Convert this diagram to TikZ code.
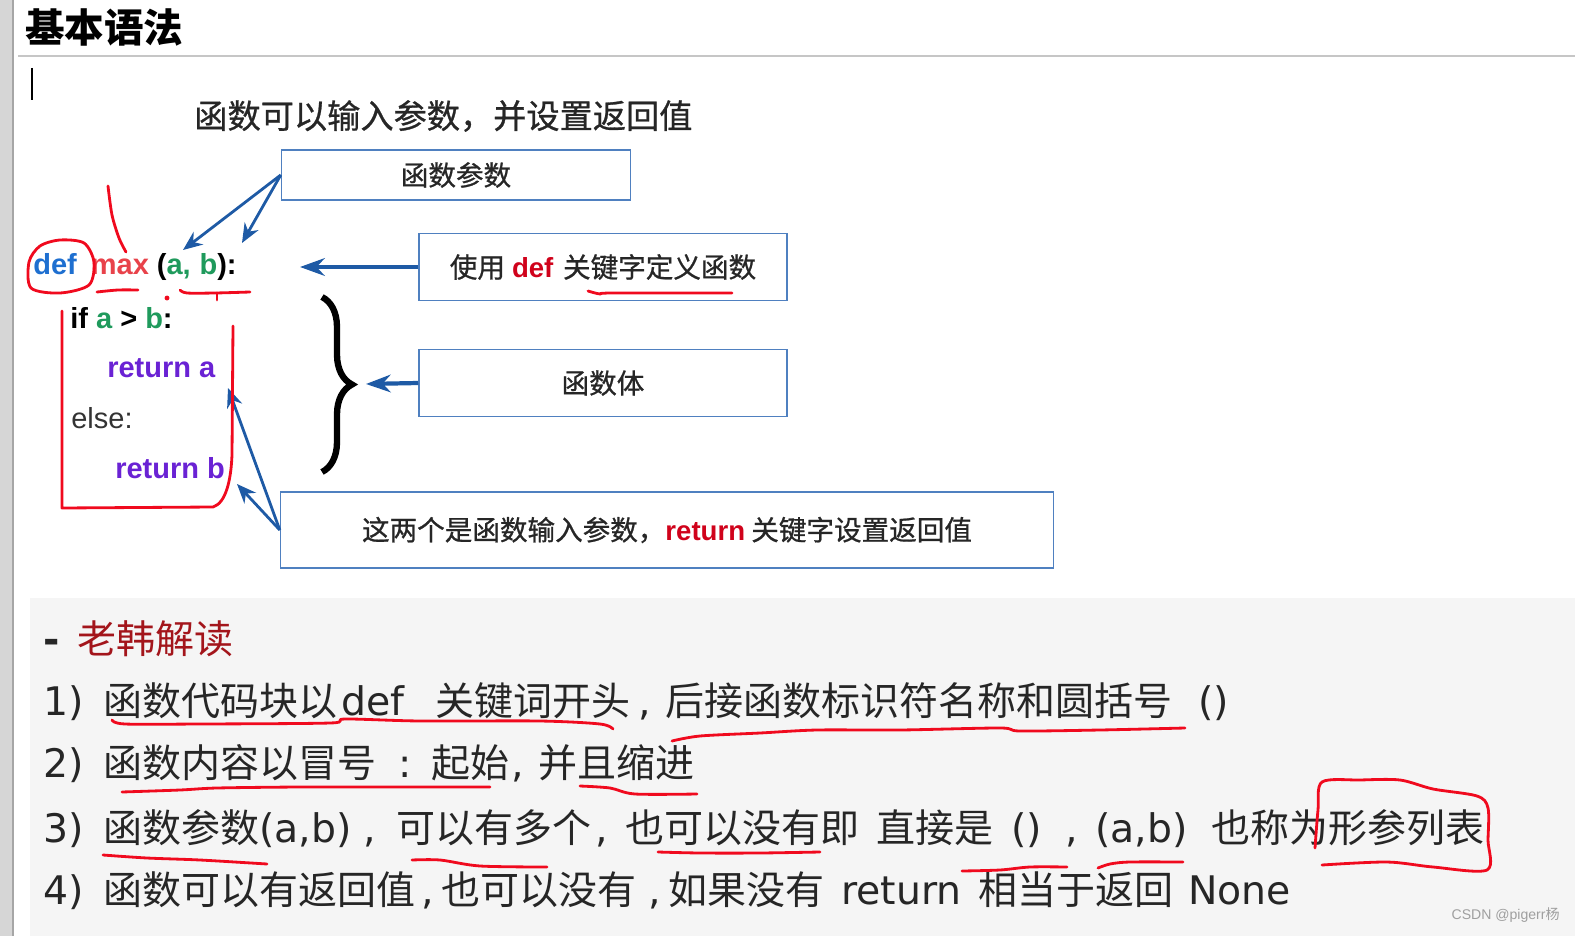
\documentclass[tikz,border=0pt]{standalone}
\usepackage{fontspec}
\setmainfont{DejaVu Sans}
\newfontfamily\zh{Noto Sans CJK SC}
\newfontfamily\zhm[FakeBold=0.8]{Noto Sans CJK SC}
\newfontfamily\ar{Liberation Sans}
\usetikzlibrary{arrows.meta,decorations.pathreplacing}

\definecolor{boxblue}{HTML}{4F80C0}
\definecolor{arrblue}{HTML}{1E5AA5}
\definecolor{defblue}{HTML}{1E6FD0}
\definecolor{maxred}{HTML}{E8424A}
\definecolor{abgreen}{HTML}{1F9A5C}
\definecolor{retpurple}{HTML}{6A22D4}
\definecolor{kwred}{HTML}{D0021B}
\definecolor{hanred}{HTML}{A3151B}
\definecolor{penred}{HTML}{F00A1E}
\definecolor{bggray}{HTML}{F5F5F5}
\definecolor{stripgray}{HTML}{D6D6D6}

% one segment of a note line, #1 wide in pixels
\newcommand{\pxbox}[2]{\makebox[#1\dimexpr0.2mm\relax][l]{#2}}
\newcommand{\hanzi}[1]{{\zh\fontsize{22.2}{27}\selectfont #1}}

\begin{document}
\begin{tikzpicture}[x=0.02cm, y=-0.02cm, >=Stealth,
  every node/.style={inner sep=0pt},
  bluebox/.style={draw=boxblue, line width=0.9pt, font=\zhm\fontsize{15.7}{19}\selectfont, text=black!85},
  arr/.style={draw=arrblue, line width=1.6pt, -{Stealth[length=11pt,width=9pt]}},
  bigarr/.style={draw=arrblue, line width=2.4pt, -{Stealth[length=14pt,width=10pt]}},
  pen/.style={draw=penred, line width=1.6pt, line cap=round, line join=round},
  code/.style={anchor=west, font=\ar\bfseries\fontsize{16.5}{20}\selectfont},
  item/.style={anchor=base west, font=\fontsize{22.4}{27}\selectfont, text=black!85}]
\useasboundingbox (0,0) rectangle (1575,936);

% page frame
\fill[stripgray] (0,0) rectangle (12,936);
\draw[gray!70, line width=0.8pt] (13,0) -- (13,936);
\fill[bggray] (30,598) rectangle (1575,936);
\draw[gray!45, line width=0.8pt] (18,56) -- (1575,56);
\draw[line width=1.2pt] (32,68) -- (32,100);

\node[anchor=west, font=\zh\bfseries\fontsize{22.5}{27}\selectfont] (title) at (25,27) {基本语法};
\node[anchor=west, font=\zhm\fontsize{18.9}{22}\selectfont, text=black!85] (sub) at (194,116) {函数可以输入参数，并设置返回值};

% code
\node[code] (c1) at (33,267) {\color{defblue}def\hspace{8pt}\color{maxred}max \color{black}(\color{abgreen}a,\hspace{5pt}b\color{black}):};
\node[code] (c2) at (70,318) {if \color{abgreen}a \color{black}> \color{abgreen}b\color{black}:};
\node[code, text=retpurple] (c3) at (107,368) {return a};
\node[code, font=\ar\fontsize{16.5}{20}\selectfont, text=black!80] (c4) at (71,418) {else:};
\node[code, text=retpurple] (c5) at (115,468) {return b};

% boxes
\node[bluebox, minimum width=6.98cm, minimum height=1.0cm] (bpar) at (456,175) {函数参数};
\node[bluebox, minimum width=7.36cm, minimum height=1.34cm] (bdef) at (603,267) {使用\hspace{4pt}{\ar\bfseries\color{kwred}def}\hspace{5.5pt}关键字定义函数};
\node[bluebox, minimum width=7.36cm, minimum height=1.34cm] (bbody) at (603,383) {函数体};
\node[bluebox, minimum width=15.46cm, minimum height=1.52cm] (bret) at (667,530) {这两个是函数输入参数，{\ar\bfseries\color{kwred}return} 关键字设置返回值};

\coordinate (pa) at (183,250);
\coordinate (pb) at (242,243);
\coordinate (pdef) at (300,267);
\coordinate (pbody) at (366,384);
\coordinate (pra) at (228,388);
\coordinate (prb) at (237,484);

\draw[arr] (bpar.west) -- (pa);
\draw[arr] (bpar.west) -- (pb);
\draw[bigarr] (bdef.west) -- (pdef);
\draw[bigarr] (bbody.west) -- (pbody);
\draw[arr] (bret.west) -- (pra);
\draw[arr] (bret.west) -- (prb);

\draw[line width=3.6pt, decorate, decoration={brace, amplitude=0.6cm}] (322,297) -- (322,472);

% handwriting
\draw[pen] plot[smooth cycle] coordinates {(29,262) (40,246) (60,240) (84,243) (94,262) (89,285) (60,293) (31,288)};
\draw[pen] plot[smooth] coordinates {(108,186) (112,215) (119,238) (126,252)};
\draw[pen] plot[smooth] coordinates {(97,292) (118,290) (138,290)};
\fill[penred] (167,298) circle[radius=1.4pt];
\draw[pen] plot[smooth] coordinates {(180,290) (187,293) (215,293) (250,292)};
\draw[pen] (217,293) -- (217,300);
\draw[pen] (62,311) -- (62,508) -- (213,507) .. controls (226,503) and (231,480) .. (232,455) -- (233,326);
\draw[pen] plot[smooth] coordinates {(588,291) (600,294) (612,293) (732,293)};

% notes
\node[item] (han) at (43,653) {\pxbox{34}{\bfseries -}\hanzi{\color{hanred}老韩解读}};
\node[item] (i1) at (43,715) {\pxbox{60}{1)}\pxbox{238}{\hanzi{函数代码块以}}\pxbox{94}{def}\pxbox{203}{\hanzi{关键词开头}}\pxbox{27}{,}\pxbox{533}{\hanzi{后接函数标识符名称和圆括号}}()};
\node[item] (i2) at (43,777) {\pxbox{60}{2)}\pxbox{295}{\hanzi{函数内容以冒号}}\pxbox{33}{:}\pxbox{80}{\hanzi{起始}}\pxbox{27}{,}\hanzi{并且缩进}};
\node[item] (i3) at (43,842) {\pxbox{60}{3)}\pxbox{156}{\hanzi{函数参数}}\pxbox{104}{(a,b)}\pxbox{33}{,}\pxbox{199}{\hanzi{可以有多个}}\pxbox{30}{,}\pxbox{251}{\hanzi{也可以没有即}}\pxbox{135}{\hanzi{直接是}}\pxbox{54}{()}\pxbox{30}{,}\pxbox{116}{(a,b)}\hanzi{也称为形参列表}};
\node[item] (i4) at (43,904) {\pxbox{60}{4)}\pxbox{318}{\hanzi{函数可以有返回值}}\pxbox{20}{,}\pxbox{207}{\hanzi{也可以没有}}\pxbox{20}{,}\pxbox{173}{\hanzi{如果没有}}\pxbox{137}{return}\pxbox{210}{\hanzi{相当于返回}}None};

\draw[pen] plot[smooth] coordinates {(112,720) (125,724) (200,724) (330,723) (345,719) (420,721) (540,721) (600,724) (613,729)};
\draw[pen] plot[smooth] coordinates {(672,741) (700,736) (760,733) (817,730) (900,730) (1000,728) (1020,731) (1100,730) (1185,728)};
\draw[pen] plot[smooth] coordinates {(122,792) (180,790) (217,788) (300,787) (400,787) (490,787)};
\draw[pen] plot[smooth] coordinates {(580,786) (610,788) (635,794) (697,794)};
\draw[pen] plot[smooth] coordinates {(103,855) (147,858) (200,860) (267,864)};
\draw[pen] plot[smooth] coordinates {(412,860) (440,860) (480,866) (547,867)};
\draw[pen] plot[smooth] coordinates {(658,852) (700,853) (760,853) (820,852)};
\draw[pen] plot[smooth] coordinates {(962,871) (1000,870) (1030,867) (1067,867)};
\draw[pen] plot[smooth] coordinates {(1098,868) (1110,864) (1130,862) (1183,862)};
\draw[pen] plot[smooth] coordinates {(1315,848) (1318,810) (1322,782) (1360,780) (1400,780) (1433,789) (1477,796) (1488,808) (1488,840) (1487,870) (1433,867) (1387,862) (1322,865)};

\node[anchor=east, font=\ar\fontsize{8}{10}\selectfont, text=gray!75] (wm) at (1560,915) {CSDN @pigerr{\zh 杨}};
\end{tikzpicture}
\end{document}
